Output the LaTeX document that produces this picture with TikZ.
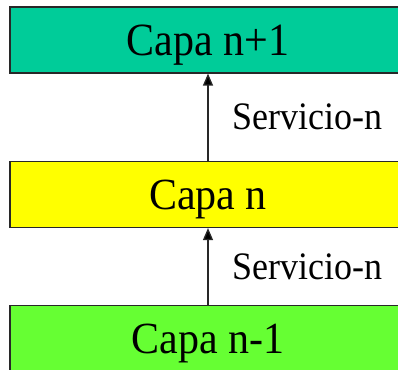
\documentclass[tikz,border=0pt]{standalone}
\usepackage{fontspec}
\setmainfont{Liberation Serif}
\usepackage{graphicx}
\usepackage{tikz}
\usetikzlibrary{arrows.meta}

\definecolor{capaverdeazul}{RGB}{0,204,153}
\definecolor{capaamarillo}{RGB}{255,255,0}
\definecolor{capaverde}{RGB}{102,255,51}
\definecolor{borde}{RGB}{40,40,40}

\tikzset{
	capa/.style={draw=borde, line width=1.2pt, minimum width=396pt, minimum height=66pt,
		inner sep=0pt, text depth=0pt, font=\fontsize{42}{48}\selectfont},
	servicio/.style={inner sep=0pt, font=\fontsize{36}{42}\selectfont}
}

\begin{document}
\begin{tikzpicture}[x=1pt, y=-1pt]
\useasboundingbox (0,0) rectangle (398,369);
\clip (0,0) rectangle (398,369);
\node (capaSup) [capa, fill=capaverdeazul] at (208,40)  {\scalebox{1}[1.1]{Capa n+1}};
\node (capaN)   [capa, fill=capaamarillo]  at (208,194.5) {\scalebox{1}[1.06]{Capa n}};
\node (capaInf) [capa, fill=capaverde]     at (208,338.5) {\scalebox{1}[1.06]{Capa n-1}};
\path[-{Triangle[length=12pt,width=10pt]}, draw=borde, line width=1.3pt]
(capaN) edge node [servicio, right=24pt] {\scalebox{1}[1.08]{Servicio-n}} (capaSup)
(capaInf) edge node [servicio, right=24pt] {\scalebox{1}[1.08]{Servicio-n}} (capaN)
;
\end{tikzpicture}
\end{document}
